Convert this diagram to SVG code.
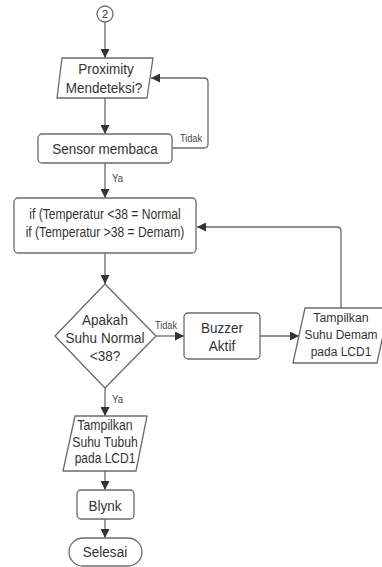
<svg xmlns="http://www.w3.org/2000/svg" width="382" height="567" viewBox="0 0 382 567">
<defs>
<style>
.shape{fill:#ffffff;stroke:#6b6b6b;stroke-width:1.3;stroke-linejoin:round}
.line{fill:none;stroke:#6b6b6b;stroke-width:1.3}
.t{font-family:"Liberation Sans",Arial,sans-serif;fill:#333333;text-anchor:middle}
.big{font-size:15.5px}
.mid{font-size:14px}
.mid2{font-size:12.5px}
.lbl{font-family:"Liberation Sans",Arial,sans-serif;fill:#444444;font-size:10.5px}
</style>
<marker id="arr" viewBox="0 0 10 10" refX="10" refY="5" markerWidth="9" markerHeight="9" markerUnits="userSpaceOnUse" orient="auto">
<path d="M0,0 L10,5 L0,10 Z" fill="#333333"/>
</marker>
</defs>
<rect width="382" height="567" fill="#ffffff"/>
<g id="connectors">
<path class="line" d="M105,22 V58" marker-end="url(#arr)"/>
<path class="line" d="M105,98 V134" marker-end="url(#arr)"/>
<path class="line" d="M172,148 H204 Q208,148 208,144 V82 Q208,78 204,78 H151" marker-end="url(#arr)"/>
<text class="lbl" x="180" y="142" textLength="22" lengthAdjust="spacingAndGlyphs">Tidak</text>
<path class="line" d="M105,163 V198" marker-end="url(#arr)"/>
<text class="lbl" x="112" y="182" textLength="11" lengthAdjust="spacingAndGlyphs">Ya</text>
<path class="line" d="M105,253 V284" marker-end="url(#arr)"/>
<path class="line" d="M156,336 H184" marker-end="url(#arr)"/>
<text class="lbl" x="155" y="329" textLength="22" lengthAdjust="spacingAndGlyphs">Tidak</text>
<path class="line" d="M260,336 H299" marker-end="url(#arr)"/>
<path class="line" d="M341,308 V231 Q341,227 337,227 H197" marker-end="url(#arr)"/>
<path class="line" d="M105,388 V416" marker-end="url(#arr)"/>
<text class="lbl" x="112" y="403" textLength="11" lengthAdjust="spacingAndGlyphs">Ya</text>
<path class="line" d="M105,471 V490" marker-end="url(#arr)"/>
<path class="line" d="M105,519 V538" marker-end="url(#arr)"/>
</g>
<g id="start">
<circle class="shape" cx="105" cy="14" r="8"/>
<text class="t" x="105" y="18" font-size="11">2</text>
</g>
<g id="proximity">
<polygon class="shape" points="62,58 153,58 147,98 57,98"/>
<text class="t big" x="106" y="73.5" textLength="55.5" lengthAdjust="spacingAndGlyphs">Proximity</text>
<text class="t big" x="104" y="92.5" textLength="76.5" lengthAdjust="spacingAndGlyphs">Mendeteksi?</text>
</g>
<g id="sensor">
<rect class="shape" x="38" y="134" width="134" height="29" rx="4"/>
<text class="t big" x="105" y="154" textLength="105.7" lengthAdjust="spacingAndGlyphs">Sensor membaca</text>
</g>
<g id="ifbox">
<rect class="shape" x="14" y="198" width="182" height="55" rx="4"/>
<text class="t mid" x="105" y="218.5" textLength="151.4" lengthAdjust="spacingAndGlyphs">if (Temperatur &lt;38 = Normal</text>
<text class="t mid" x="105" y="236.5" textLength="158.7" lengthAdjust="spacingAndGlyphs">if (Temperatur &gt;38 = Demam)</text>
</g>
<g id="decision">
<polygon class="shape" points="105,284 156,336 105,388 55,336"/>
<text class="t big" x="105" y="325" textLength="45.8" lengthAdjust="spacingAndGlyphs">Apakah</text>
<text class="t big" x="105" y="343" textLength="78.8" lengthAdjust="spacingAndGlyphs">Suhu Normal</text>
<text class="t big" x="105" y="361" textLength="30.4" lengthAdjust="spacingAndGlyphs">&lt;38?</text>
</g>
<g id="buzzer">
<rect class="shape" x="184" y="313" width="76" height="46" rx="4"/>
<text class="t big" x="222" y="333" textLength="42" lengthAdjust="spacingAndGlyphs">Buzzer</text>
<text class="t big" x="222" y="351" textLength="26.3" lengthAdjust="spacingAndGlyphs">Aktif</text>
</g>
<g id="demam">
<polygon class="shape" points="305,308 389,308 377,363 293,363"/>
<text class="t mid2" x="341" y="322" textLength="55.3" lengthAdjust="spacingAndGlyphs">Tampilkan</text>
<text class="t mid2" x="341" y="339" textLength="73" lengthAdjust="spacingAndGlyphs">Suhu Demam</text>
<text class="t mid2" x="341" y="356" textLength="60.7" lengthAdjust="spacingAndGlyphs">pada LCD1</text>
</g>
<g id="tubuh">
<polygon class="shape" points="75,416 147,416 136,471 63,471"/>
<text class="t mid" x="105" y="430" textLength="55.3" lengthAdjust="spacingAndGlyphs">Tampilkan</text>
<text class="t mid" x="105" y="446.5" textLength="65.4" lengthAdjust="spacingAndGlyphs">Suhu Tubuh</text>
<text class="t mid" x="105" y="463" textLength="60.7" lengthAdjust="spacingAndGlyphs">pada LCD1</text>
</g>
<g id="blynk">
<rect class="shape" x="77" y="490" width="57" height="29" rx="4"/>
<text class="t big" x="105" y="510.5" textLength="33" lengthAdjust="spacingAndGlyphs">Blynk</text>
</g>
<g id="selesai">
<rect class="shape" x="69" y="538" width="73" height="28" rx="14"/>
<text class="t big" x="105" y="557" textLength="44.3" lengthAdjust="spacingAndGlyphs">Selesai</text>
</g>
</svg>
